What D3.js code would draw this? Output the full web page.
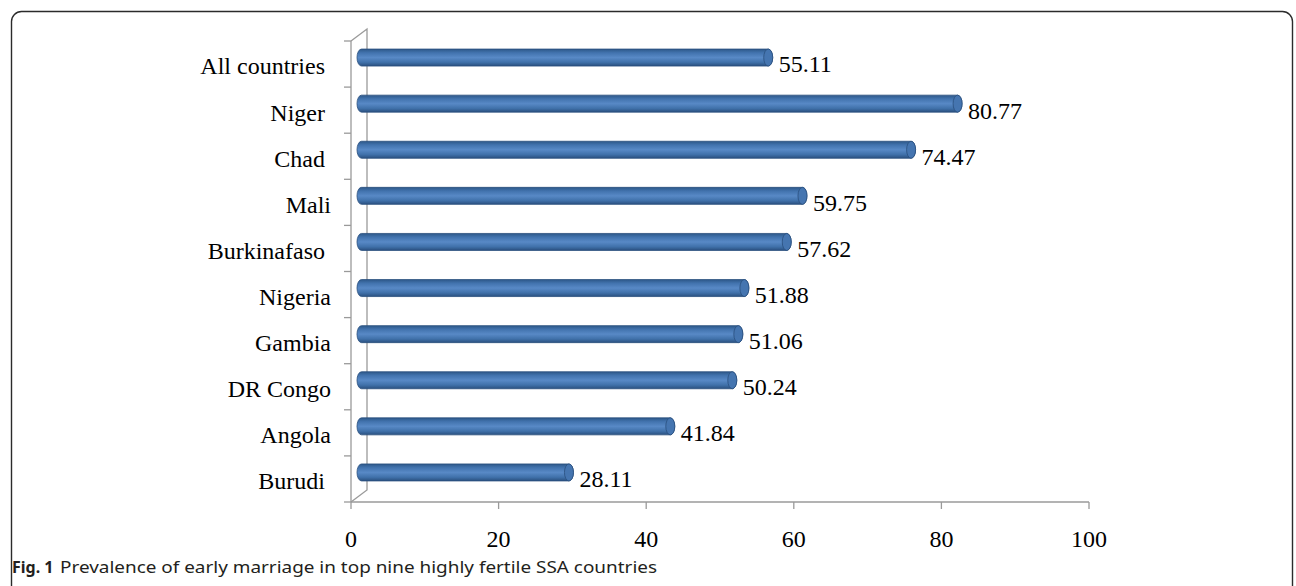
<!DOCTYPE html>
<html>
<head>
<meta charset="utf-8">
<script src="https://cdn.jsdelivr.net/npm/d3@7"></script>
<style>
  html, body { margin: 0; padding: 0; background: #fff; }
  svg { display: block; }
</style>
</head>
<body>
<div id="chart"></div>
<script>
// --- data ---
const countries = ["All countries ", "Niger ", "Chad ", "Mali", "Burkinafaso ", "Nigeria", "Gambia", "DR Congo", "Angola", "Burudi "];
const prevalence = [55.11, 80.77, 74.47, 59.75, 57.62, 51.88, 51.06, 50.24, 41.84, 28.11];
const xTicks = [0, 20, 40, 60, 80, 100];
const captionBold = "Fig. 1";
const captionText = "Prevalence of early marriage in top nine highly fertile SSA countries";

// --- layout ---
const W = 1296, H = 586;
const plot = { left: 351, right: 1089, top: 41, bottom: 502 };
const depth = { dx: 16, dy: -12 };   // 3D wall offset
const barShift = 10.5;               // bar x offset into the depth
const barR = 8.5;                    // half bar thickness
const capRx = 4.5;

const svg = d3.select("#chart").append("svg")
  .attr("width", W).attr("height", H)
  .attr("viewBox", [0, 0, W, H]);

// outer frame
svg.append("rect")
  .attr("x", 11.5).attr("y", 11.5)
  .attr("width", 1281).attr("height", 585)
  .attr("rx", 10)
  .attr("fill", "none")
  .attr("stroke", "#2b2b2b")
  .attr("stroke-width", 1.4);

const x = d3.scaleLinear().domain([0, 100]).range([plot.left, plot.right]);
const y = d3.scaleBand().domain(countries).range([plot.top, plot.bottom]).paddingInner(0).paddingOuter(0);

const defs = svg.append("defs");
const grad = defs.append("linearGradient")
  .attr("id", "cyl").attr("x1", 0).attr("y1", 0).attr("x2", 0).attr("y2", 1);
[["0%", "#2d5889"], ["22%", "#4273ae"], ["50%", "#5889c6"], ["78%", "#4071aa"], ["100%", "#2a507f"]]
  .forEach(([o, c]) => grad.append("stop").attr("offset", o).attr("stop-color", c));

const axisColor = "#9a9a9a";
const g = svg.append("g");

// back wall line + diagonals
g.append("path")
  .attr("d", `M${plot.left},${plot.top} L${plot.left + depth.dx},${plot.top + depth.dy} L${plot.left + depth.dx},${plot.bottom + depth.dy} L${plot.left},${plot.bottom}`)
  .attr("fill", "none").attr("stroke", axisColor).attr("stroke-width", 1.3);

// front vertical axis
g.append("line")
  .attr("x1", plot.left).attr("x2", plot.left)
  .attr("y1", plot.top).attr("y2", plot.bottom)
  .attr("stroke", axisColor).attr("stroke-width", 1.3);

// category ticks on band boundaries
const bounds = countries.map(c => y(c)).concat([plot.bottom]);
g.selectAll("line.ytick").data(bounds).join("line")
  .attr("class", "ytick")
  .attr("x1", plot.left - 7).attr("x2", plot.left)
  .attr("y1", d => d).attr("y2", d => d)
  .attr("stroke", axisColor).attr("stroke-width", 1.3);

// floor line + x ticks
g.append("line")
  .attr("x1", plot.left).attr("x2", plot.right)
  .attr("y1", plot.bottom).attr("y2", plot.bottom)
  .attr("stroke", axisColor).attr("stroke-width", 1.3);
g.selectAll("line.xtick").data(xTicks).join("line")
  .attr("class", "xtick")
  .attr("x1", d => x(d)).attr("x2", d => x(d))
  .attr("y1", plot.bottom).attr("y2", plot.bottom + 7)
  .attr("stroke", axisColor).attr("stroke-width", 1.3);

const serif = "'Liberation Serif', 'Times New Roman', serif";
const fs = 24;

g.selectAll("text.xlab").data(xTicks).join("text")
  .attr("class", "xlab")
  .attr("x", d => x(d)).attr("y", 547)
  .attr("text-anchor", "middle")
  .attr("font-family", serif).attr("font-size", fs)
  .text(d => d);

// category labels
g.selectAll("text.ylab").data(countries).join("text")
  .attr("class", "ylab")
  .attr("x", 331)
  .attr("y", d => y(d) + y.bandwidth() / 2 + 2)
  .attr("dy", "0.35em")
  .attr("text-anchor", "end")
  .style("white-space", "pre")
  .attr("font-family", serif).attr("font-size", fs)
  .text(d => d);

// cylinders
const rows = countries.map((c, i) => ({ c, v: prevalence[i] }));
const bars = g.selectAll("g.bar").data(rows).join("g")
  .attr("class", "bar")
  .attr("transform", d => `translate(${barShift},${y(d.c) + y.bandwidth() / 2 + depth.dy / 2 - 0.5})`);

bars.append("path")
  .attr("d", d => {
    const x0 = x(0), x1 = x(d.v);
    return `M${x0},${-barR} L${x1},${-barR} A${capRx},${barR} 0 0 1 ${x1},${barR} L${x0},${barR} A${capRx},${barR} 0 0 1 ${x0},${-barR} Z`;
  })
  .attr("fill", "url(#cyl)")
  .attr("stroke", "#2a4f7e").attr("stroke-width", 0.8);

bars.append("ellipse")
  .attr("cx", d => x(d.v)).attr("cy", 0)
  .attr("rx", capRx).attr("ry", barR)
  .attr("fill", "#4575b0")
  .attr("stroke", "#2a4f7e").attr("stroke-width", 0.8);

// value labels
g.selectAll("text.val").data(rows).join("text")
  .attr("class", "val")
  .attr("x", d => x(d.v) + barShift + capRx + 6)
  .attr("y", d => y(d.c) + y.bandwidth() / 2)
  .attr("dy", "0.35em")
  .attr("font-family", serif).attr("font-size", fs)
  .text(d => d3.format(".2f")(d.v));

// caption
const cap = svg.append("text")
  .attr("x", 12).attr("y", 573)
  .attr("font-family", "'Noto Sans', 'Open Sans', sans-serif")
  .attr("font-size", 16)
  .attr("fill", "#231f20");
cap.append("tspan").attr("font-weight", "bold").text(captionBold);
cap.append("tspan").attr("x", 60).text(captionText)
  .attr("textLength", 597).attr("lengthAdjust", "spacingAndGlyphs");
</script>
</body>
</html>
